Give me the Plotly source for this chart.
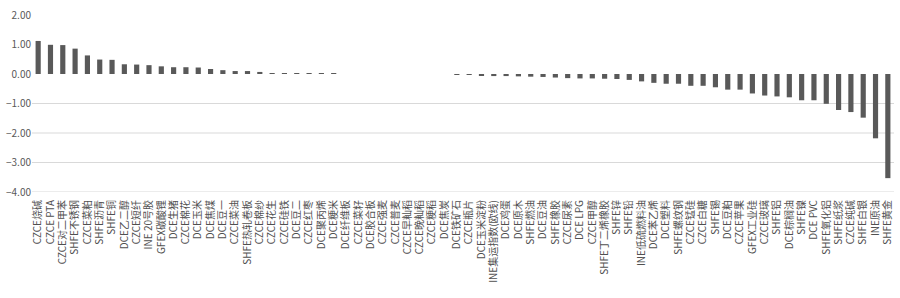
import plotly.graph_objects as go

categories = [
    "CZCE烧碱", "CZCE PTA", "CZCE对二甲苯", "SHFE不锈钢", "CZCE菜粕", "SHFE沥青", "SHFE铜",
    "DCE乙二醇", "CZCE短纤", "INE 20号胶", "GFEX碳酸锂", "DCE生猪", "CZCE棉花", "DCE玉米",
    "DCE焦煤", "DCE豆一", "CZCE菜油", "SHFE热轧卷板", "CZCE棉纱", "CZCE花生", "CZCE硅铁",
    "DCE豆二", "CZCE红枣", "DCE聚丙烯", "DCE粳米", "DCE纤维板", "CZCE菜籽", "DCE胶合板",
    "CZCE强麦", "CZCE普麦", "CZCE早籼稻", "CZCE晚籼稻", "CZCE粳稻", "DCE焦炭",
    "DCE铁矿石", "CZCE瓶片", "DCE玉米淀粉", "INE集运指数(欧线)", "DCE鸡蛋", "DCE原木",
    "SHFE燃油", "DCE豆油", "SHFE橡胶", "CZCE尿素", "DCE LPG", "CZCE甲醇", "SHFE丁二烯橡胶",
    "SHFE锌", "SHFE铅", "INE低硫燃料油", "DCE苯乙烯", "DCE塑料", "SHFE螺纹钢", "CZCE锰硅",
    "CZCE白糖", "SHFE锡", "DCE豆粕", "CZCE苹果", "GFEX工业硅", "CZCE玻璃", "SHFE铝",
    "DCE棕榈油", "SHFE镍", "DCE PVC", "SHFE氧化铝", "SHFE纸浆", "CZCE纯碱", "SHFE白银",
    "INE原油", "SHFE黄金",
]

values = [
    1.12, 0.99, 0.98, 0.86, 0.63, 0.49, 0.48, 0.33, 0.32, 0.30, 0.26, 0.23, 0.23, 0.22,
    0.17, 0.13, 0.10, 0.10, 0.07, 0.03, 0.02, 0.02, 0.02, 0.01, 0.01, 0.00, 0.00, 0.00,
    0.00, 0.00, 0.00, 0.00, 0.00, 0.00,
    -0.03, -0.03, -0.05, -0.07, -0.07, -0.08, -0.09, -0.10, -0.12, -0.14, -0.15, -0.15,
    -0.16, -0.17, -0.20, -0.25, -0.30, -0.33, -0.33, -0.40, -0.40, -0.45, -0.53, -0.53,
    -0.66, -0.73, -0.76, -0.79, -0.89, -0.89, -1.01, -1.22, -1.29, -1.48, -2.18, -3.53,
]

y_ticks = [2, 1, 0, -1, -2, -3, -4]
grid_ticks = [-1, -2, -3, -4]

fig = go.Figure(
    go.Bar(
        x=categories,
        y=values,
        marker=dict(color="#595959", line=dict(width=0)),
        width=0.42,
    )
)

for t in grid_ticks:
    fig.add_shape(
        type="line", xref="paper", yref="y", x0=0, x1=1, y0=t, y1=t,
        line=dict(color="#d9d9d9", width=1), layer="below",
    )

fig.update_layout(
    width=900,
    height=298,
    margin=dict(l=30, r=6, t=10, b=106),
    paper_bgcolor="white",
    plot_bgcolor="white",
    showlegend=False,
    font=dict(family="Noto Sans CJK SC, Noto Sans, sans-serif", color="#595959", size=10),
    xaxis=dict(
        type="category",
        tickangle=-90,
        showgrid=False,
        showline=False,
        zeroline=False,
        ticks="",
        ticklabelstandoff=5,
        tickfont=dict(size=10, color="#505050"),
        range=[-0.5, len(categories) - 0.5],
    ),
    yaxis=dict(
        range=[-4, 2],
        tickvals=y_ticks,
        tickformat=".2f",
        showgrid=False,
        zeroline=False,
        showline=False,
        ticks="",
        tickfont=dict(size=10, color="#595959"),
    ),
)

fig.write_html("out.html")
